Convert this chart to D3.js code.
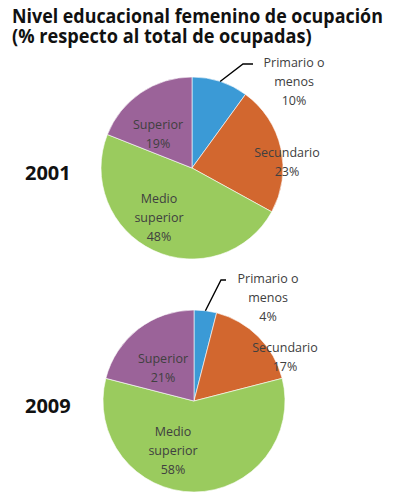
<!DOCTYPE html>
<html>
<head>
<meta charset="utf-8">
<script src="https://cdn.jsdelivr.net/npm/d3@7"></script>
<style>
  body { margin: 0; background: #fff; }
  text { font-family: "Open Sans", "Liberation Sans", sans-serif; }
</style>
</head>
<body>
<svg id="chart" width="394" height="496"></svg>
<script>
// data
var categories = ["Primario o menos", "Secundario", "Medio superior", "Superior"];
var years = ["2001", "2009"];
var values2001 = [10, 23, 48, 19];
var values2009 = [4, 17, 58, 21];
var colors = ["#3b9ad6", "#d2672f", "#9acb5e", "#9b6399"];
var titleLines = ["Nivel educacional femenino de ocupación", "(% respecto al total de ocupadas)"];
var titleWidths = [371, 300];

var svg = d3.select("#chart");

// title, each line squeezed to the reference width (Calibri is narrower)
titleLines.forEach(function (line, i) {
  var t = svg.append("text")
    .attr("x", 0)
    .attr("y", 0)
    .attr("font-size", 19)
    .attr("font-weight", "bold")
    .attr("fill", "#111")
    .text(line);
  var sx = titleWidths[i] / t.node().getComputedTextLength();
  t.attr("transform", "translate(12," + (23 + i * 20) + ") scale(" + sx + ",1)");
});

var pie = d3.pie().sort(null).value(function (d) { return d; });
var radius = 91;
var arc = d3.arc().innerRadius(0).outerRadius(radius);

// one pie per year, label spots relative to the centre
var pies = [
  {
    year: years[0], values: values2001, cx: 192, cy: 168,
    labels: [
      { lines: ["Primario o", "menos"], x: 102, y: -101, leader: [51, 61] },
      { lines: ["Secundario"], x: 95, y: -11 },
      { lines: ["Medio", "superior"], x: -33, y: 35 },
      { lines: ["Superior"], x: -34, y: -39 }
    ]
  },
  {
    year: years[1], values: values2009, cx: 194, cy: 401,
    labels: [
      { lines: ["Primario o", "menos"], x: 74, y: -118, leader: [27, 32] },
      { lines: ["Secundario"], x: 91, y: -49 },
      { lines: ["Medio", "superior"], x: -21, y: 35 },
      { lines: ["Superior"], x: -31, y: -38 }
    ]
  }
];

pies.forEach(function (p) {
  var g = svg.append("g").attr("transform", "translate(" + p.cx + "," + p.cy + ")");
  var arcs = pie(p.values);

  g.selectAll("path")
    .data(arcs)
    .enter()
    .append("path")
    .attr("d", arc)
    .attr("fill", function (d, i) { return colors[i]; })
    .attr("stroke", "#fff")
    .attr("stroke-width", 0.6);

  // year label
  svg.append("text")
    .attr("x", 25)
    .attr("y", p.cy + 12)
    .attr("font-size", 20)
    .attr("font-weight", "bold")
    .attr("fill", "#111")
    .text(p.year);

  arcs.forEach(function (a, i) {
    var lab = p.labels[i];
    var lines = lab.lines.concat([p.values[i] + "%"]);
    var t = g.append("text")
      .attr("text-anchor", "middle")
      .attr("font-size", 12.5)
      .attr("fill", "#404040");
    lines.forEach(function (s, j) {
      t.append("tspan")
        .attr("x", lab.x)
        .attr("y", lab.y + j * 19)
        .text(s);
    });
    if (lab.leader) {
      var mid = (a.startAngle + a.endAngle) / 2;
      var sx = Math.sin(mid) * radius;
      var sy = -Math.cos(mid) * radius;
      var ey = lab.y - 3;
      g.append("path")
        .attr("d", "M" + sx + "," + sy + "L" + lab.leader[0] + "," + ey + "L" + lab.leader[1] + "," + ey)
        .attr("fill", "none")
        .attr("stroke", "#000")
        .attr("stroke-width", 1.4);
    }
  });
});
</script>
</body>
</html>
